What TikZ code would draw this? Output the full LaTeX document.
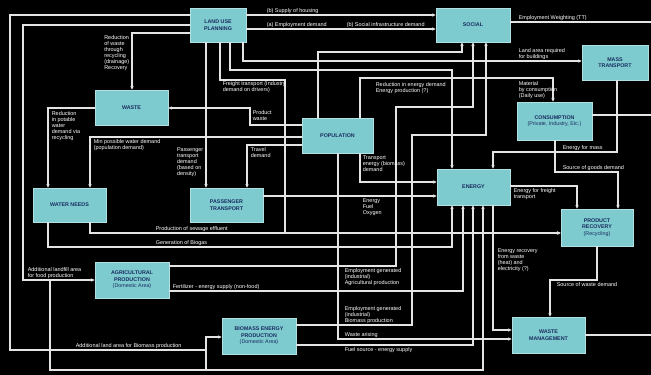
\documentclass[tikz,border=0pt]{standalone}
\usepackage{fontspec}
\setmainfont{Liberation Sans}
\usetikzlibrary{arrows.meta}
\definecolor{boxc}{RGB}{125,202,207}
\definecolor{boxt}{RGB}{25,45,95}
\definecolor{linec}{RGB}{228,228,228}
\newcommand\boxfont{\fontsize{4}{4.8}\selectfont\bfseries}
\newcommand\labfont{\fontsize{4.1}{4.5}\selectfont}
\begin{document}
\begin{tikzpicture}[x=0.75pt,y=-0.75pt,
  box/.style={fill=boxc, draw=boxc!60!white, line width=0.5pt, text=boxt, font=\boxfont, align=center, inner sep=0pt},
  conn/.style={draw=linec, line width=0.95pt, -{Stealth[length=2.8pt,width=2.6pt]}},
  plain/.style={draw=linec, line width=0.95pt},
  lab/.style={text=white, font=\labfont, align=left, inner sep=0.4pt}]
\fill[black] (0,0) rectangle (651,375);
\useasboundingbox (0,0) rectangle (651,375);

% boxes
\node[box, minimum width=42pt, minimum height=25.5pt] (lup) at (218,25) {LAND USE\\PLANNING};
\node[box, minimum width=55.5pt, minimum height=25.5pt] (social) at (473,25) {SOCIAL};
\node[box, minimum width=49.5pt, minimum height=26.25pt] (mass) at (615,62.5) {MASS\\TRANSPORT};
\node[box, minimum width=54.75pt, minimum height=26.25pt] (waste) at (131.5,107.5) {WASTE};
\node[box, minimum width=53.25pt, minimum height=26.25pt] (pop) at (337.5,135.5) {POPULATION};
\node[box, minimum width=56.25pt, minimum height=28.5pt] (cons) at (554.5,121) {CONSUMPTION\\{\mdseries(Private, Industry, Etc.)}};
\node[box, minimum width=54.75pt, minimum height=27pt] (energy) at (473.5,187) {ENERGY};
\node[box, minimum width=54.75pt, minimum height=25.5pt] (water) at (69.5,205) {WATER NEEDS};
\node[box, minimum width=54.75pt, minimum height=25.5pt] (ptrans) at (226.5,205) {PASSENGER\\TRANSPORT};
\node[box, minimum width=54pt, minimum height=27.75pt] (prod) at (597,227.5) {PRODUCT\\RECOVERY\\{\mdseries(Recycling)}};
\node[box, minimum width=55.5pt, minimum height=27pt] (agri) at (132,280) {AGRICULTURAL\\PRODUCTION\\{\mdseries(Domestic Area)}};
\node[box, minimum width=55.5pt, minimum height=27pt] (bio) at (259,336) {BIOMASS ENERGY\\PRODUCTION\\{\mdseries(Domestic Area)}};
\node[box, minimum width=54.75pt, minimum height=27pt] (wmgmt) at (548.5,335) {WASTE\\MANAGEMENT};

% junctions and free ends
\coordinate (jA) at (50,280);
\coordinate (jB) at (206,350);
\coordinate (jC) at (206,370);
\coordinate (eS) at (651,22);
\coordinate (eC) at (651,115);
\coordinate (eW) at (651,335);

% connectors
\draw[conn] (lup.west|-0,15) -- (10,15) -- (10,350) -- (206,350) -- (206,337) -- (bio.west|-0,337);
\draw[plain] (jB) -- (jC);
\draw[conn] (lup.west|-0,25) -- (23,25) -- (23,280) -- (agri.west|-0,280);
\draw[conn] (jA) -- (50,370) -- (483,370) -- (483,0|-energy.south);
\draw[conn] (lup.west|-0,33) -- (132,33) -- (132,0|-waste.north);
\draw[conn] (lup.east|-0,15) -- (social.west|-0,15);
\draw[conn] (lup.east|-0,29) -- (social.west|-0,29);
\draw[plain] (social.east|-0,22) -- (eS);
\draw[conn] (206,0|-lup.south) -- (206,0|-ptrans.north);
\draw[conn] (220,0|-lup.south) -- (220,80) -- (285,80) -- (285,233) -- (prod.west|-0,233);
\draw[conn] (230,0|-lup.south) -- (230,70) -- (452,70) -- (452,0|-energy.north);
\draw[conn] (243,0|-lup.south) -- (243,61) -- (mass.west|-0,61);
\draw[conn] (318,0|-pop.north) -- (318,52) -- (462,52) -- (462,0|-social.south);
\draw[conn] (360,0|-pop.north) -- (360,78) -- (553,78) -- (553,0|-cons.north);
\draw[conn] (agri.east|-0,266) -- (396,266) -- (396,107) -- (473,107) -- (473,0|-social.south);
\draw[conn] (bio.east|-0,325) -- (412,325) -- (412,135) -- (486,135) -- (486,0|-social.south);
\draw[conn] (617,0|-mass.south) -- (617,152) -- (493,152) -- (493,0|-energy.north);
\draw[conn] (555,0|-cons.south) -- (555,172) -- (618,172) -- (618,0|-prod.north);
\draw[plain] (cons.east|-0,115) -- (eC);
\draw[conn] (energy.east|-0,186) -- (577,186) -- (577,0|-prod.north);
\draw[conn] (597,0|-prod.south) -- (597,280) -- (550,280) -- (550,0|-wmgmt.north);
\draw[plain] (wmgmt.east|-0,335) -- (eW);
\draw[conn] (493,0|-energy.south) -- (493,330) -- (wmgmt.west|-0,330);
\draw[conn] (338,0|-pop.south) -- (338,339) -- (wmgmt.west|-0,339);
\draw[conn] (bio.east|-0,345) -- (473,345) -- (473,0|-energy.south);
\draw[conn] (agri.east|-0,291) -- (463,291) -- (463,0|-energy.south);
\draw[conn] (48,0|-water.south) -- (48,247) -- (452,247) -- (452,0|-energy.south);
\draw[conn] (90,0|-water.south) -- (90,233) -- (prod.west|-0,233);
\draw[conn] (pop.west|-0,137) -- (90,137) -- (90,0|-water.north);
\draw[conn] (waste.west|-0,108) -- (48,108) -- (48,0|-water.north);
\draw[conn] (pop.west|-0,125) -- (250,125) -- (250,108) -- (waste.east|-0,108);
\draw[conn] (pop.west|-0,145) -- (247,145) -- (247,0|-ptrans.north);
\draw[conn] (360,0|-pop.south) -- (360,182) -- (energy.west|-0,182);
\draw[conn] (ptrans.east|-0,196) -- (energy.west|-0,196);

% labels
\node[lab, anchor=south west] (la) at (266,14) {(b) Supply of housing};
\node[lab, anchor=south west] (lb) at (266,28) {(a) Employment demand};
\node[lab, anchor=south west] (lc) at (346,28) {(b) Social infrastructure demand};
\node[lab, anchor=south west] (ld) at (518,21) {Employment Weighting (TT)};
\node[lab, anchor=south west] (le) at (518,60) {Land area required\\for buildings};
\node[lab, anchor=north west] (lf) at (518,81) {Material\\by consumption\\(Daily use)};
\node[lab, anchor=north west] (lg) at (375,82) {Reduction in energy demand\\Energy production (?)};
\node[lab, anchor=north west] (lh) at (222,81) {Freight transport (Industry\\demand on drivers)};
\node[lab, anchor=north east] (li) at (130,35) {Reduction\\of waste\\through\\recycling\\(drainage)\\Recovery};
\node[lab, anchor=north west] (lj) at (51,111) {Reduction\\in potable\\water\\demand via\\recycling};
\node[lab, anchor=north west] (lk) at (93,139) {Min possible water demand\\(population demand)};
\node[lab, anchor=north east] (ll) at (204,147) {Passenger\\transport\\demand\\(based on\\density)};
\node[lab, anchor=north west] (lm) at (252,110) {Product\\waste};
\node[lab, anchor=north west] (ln) at (250,147) {Travel\\demand};
\node[lab, anchor=north west] (lo) at (362,155) {Transport\\energy (biomass)\\demand};
\node[lab, anchor=north west] (lp) at (362,198) {Energy\\Fuel\\Oxygen};
\node[lab, anchor=north west] (lq) at (513,188) {Energy for freight\\transport};
\node[lab, anchor=south west] (lr) at (562,151) {Energy for mass};
\node[lab, anchor=south west] (ls) at (562,171) {Source of goods demand};
\node[lab, anchor=south west] (lt) at (155,232) {Production of sewage effluent};
\node[lab, anchor=south west] (lu) at (155,246) {Generation of Biogas};
\node[lab, anchor=south west] (lv) at (27,279) {Additional landfill area\\for food production};
\node[lab, anchor=south west] (lw) at (172,290) {Fertilizer - energy supply (non-food)};
\node[lab, anchor=north west] (lx) at (344,268) {Employment generated\\(industrial)\\Agricultural production};
\node[lab, anchor=south west] (ly) at (344,324) {Employment generated\\(industrial)\\Biomass production};
\node[lab, anchor=south west] (lz) at (344,338) {Waste arising};
\node[lab, anchor=north west] (laa) at (344,347) {Fuel source - energy supply};
\node[lab, anchor=north west] (lbb) at (497,248) {Energy recovery\\from waste\\(heat) and\\electricity (?)};
\node[lab, anchor=north west] (lcc) at (556,282) {Source of waste demand};
\node[lab, anchor=south west] (ldd) at (75,349) {Additional land area for Biomass production};
\end{tikzpicture}
\end{document}
